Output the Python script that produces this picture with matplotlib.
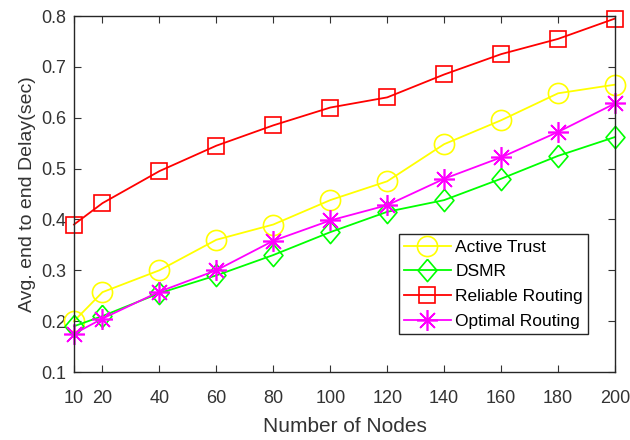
import matplotlib
matplotlib.use("Agg")
import matplotlib.pyplot as plt

nodes = [10, 20, 40, 60, 80, 100, 120, 140, 160, 180, 200]
active_trust = [0.200, 0.257, 0.300, 0.360, 0.390, 0.438, 0.475, 0.548, 0.595, 0.648, 0.665]
dsmr = [0.190, 0.210, 0.255, 0.290, 0.330, 0.375, 0.415, 0.438, 0.480, 0.525, 0.562]
reliable = [0.390, 0.432, 0.495, 0.545, 0.585, 0.620, 0.640, 0.685, 0.725, 0.755, 0.795]
optimal = [0.175, 0.205, 0.258, 0.300, 0.358, 0.398, 0.428, 0.480, 0.522, 0.572, 0.628]
yticks = [0.1, 0.2, 0.3, 0.4, 0.5, 0.6, 0.7, 0.8]

plt.rcParams['font.family'] = ['Liberation Sans', 'DejaVu Sans']

fig = plt.figure(figsize=(6.3, 4.4), dpi=100)
ax = fig.add_axes([74/630, 1 - 372/440, (615-74)/630, (372-16)/440])

diamond = [(0, 1), (0.85, 0), (0, -1), (-0.85, 0), (0, 1)]
common = dict(mfc='none', mew=1.2, lw=1.3, clip_on=False)
ax.plot(nodes, active_trust, color='#ffff00', marker='o', markersize=14.5, label='Active Trust', **common)
ax.plot(nodes, dsmr, color='#00ff00', marker=diamond, markersize=16, label='DSMR', **common)
ax.plot(nodes, reliable, color='#ff0000', marker='s', markersize=12, label='Reliable Routing', **common)
ax.plot(nodes, optimal, color='#ff00ff', marker=(8, 2, 0), markersize=15, label='Optimal Routing', **common)

ax.set_xlim(10, 200)
ax.set_ylim(0.1, 0.8)
ax.set_xticks(nodes)
ax.set_yticks(yticks)
ax.set_yticklabels([f"{v:.1f}" for v in yticks])
ax.tick_params(direction='in', top=True, right=True, labelsize=13, colors='#333333', length=5)
ax.tick_params(axis='x', pad=13)
ax.tick_params(axis='y', pad=5.5)
for s in ax.spines.values():
    s.set_color('#262626')
    s.set_linewidth(1.0)
ax.set_xlabel('Number of Nodes', fontsize=15, color='#333333', labelpad=7)
ax.set_ylabel('Avg. end to end Delay(sec)', fontsize=14, color='#333333')

leg = ax.legend(loc='lower right', fontsize=12.5, frameon=True, fancybox=False, edgecolor='#262626',
                handlelength=2.7, borderpad=0.3, labelspacing=0.55, handletextpad=0.25,
                borderaxespad=0, framealpha=1)
leg.set_bbox_to_anchor((588/630, 1 - 334/440), transform=fig.transFigure)
leg.get_frame().set_linewidth(1.0)

fig.savefig('out.png', dpi=100)
